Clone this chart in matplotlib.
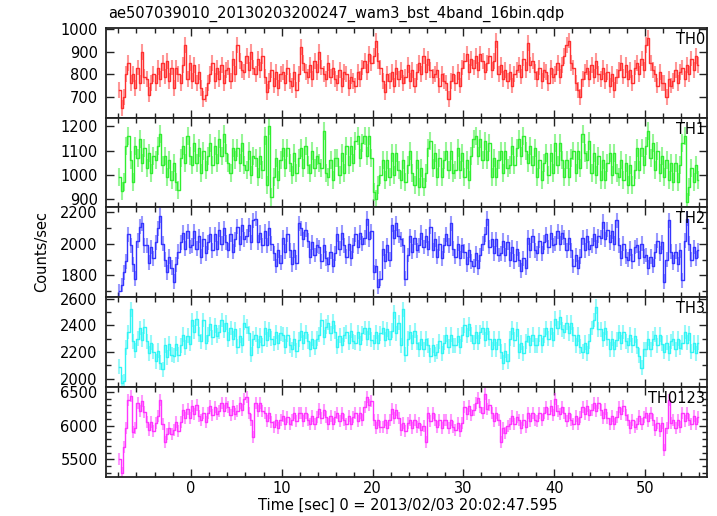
import numpy as np
import matplotlib
matplotlib.use("Agg")
import matplotlib.pyplot as plt
from matplotlib.ticker import MultipleLocator

plt.rcParams['font.family'] = ['DejaVu Sans']

title = "ae507039010_20130203200247_wam3_bst_4band_16bin.qdp"
xlabel = "Time [sec] 0 = 2013/02/03 20:02:47.595"
ylabel = "Counts/sec"

# time bins: start of first bin and bin width (sec)
t_start = -8.0
bin_width = 0.25

# rates, 4 bins per second, one line = 4 seconds
th0 = [
    730, 650, 700, 800, 850, 760, 800, 740, 830, 760, 900, 790, 780, 710, 760, 800,
    760, 830, 780, 850, 790, 860, 770, 830, 740, 830, 800, 760, 840, 930, 780, 850,
    770, 840, 760, 810, 740, 690, 710, 760, 800, 850, 770, 830, 780, 840, 760, 820,
    830, 770, 870, 800, 930, 860, 820, 810, 880, 820, 900, 830, 800, 870, 820, 880,
    790, 720, 770, 820, 750, 810, 740, 800, 810, 760, 830, 770, 750, 810, 730, 800,
    920, 850, 810, 790, 840, 780, 860, 810, 900, 830, 800, 780, 850, 790, 830, 780,
    760, 820, 750, 810, 800, 740, 790, 770, 750, 810, 780, 830, 860, 810, 890, 850,
    880, 950, 860, 830, 770, 720, 800, 770, 810, 750, 830, 780, 820, 760, 790, 840,
    770, 820, 750, 810, 850, 800, 880, 810, 870, 820, 790, 800, 820, 750, 800, 770,
    760, 690, 770, 800, 760, 810, 750, 830, 860, 890, 810, 870, 830, 880, 820, 890,
    860, 810, 850, 880, 820, 860, 950, 800, 840, 780, 820, 770, 810, 750, 800, 820,
    840, 790, 870, 820, 940, 840, 860, 810, 780, 830, 770, 820, 810, 760, 830, 790,
    800, 850, 790, 840, 880, 930, 950, 850, 830, 760, 730, 700, 780, 810, 830, 780,
    840, 790, 860, 800, 780, 830, 770, 810, 750, 800, 730, 790, 820, 850, 790, 840,
    780, 820, 760, 830, 850, 800, 870, 820, 930, 960, 850, 820, 800, 750, 810, 760,
    760, 700, 780, 750, 770, 820, 760, 810, 830, 780, 840, 800, 870, 820, 880, 840,
]
th1 = [
    990, 935, 970, 1120, 1160, 1060, 970, 1120, 1070, 1150, 1050, 1110, 1030, 1090, 1010, 1080,
    1060, 1120, 1170, 1040, 1080, 990, 1060, 980, 1050, 970, 940, 1070, 1120, 1050, 1160, 1080,
    1040, 1130, 1050, 1110, 1010, 1100, 1020, 1080, 1130, 1040, 1120, 1050, 1150, 1080, 1170, 1090,
    1050, 1010, 1110, 1060, 1110, 1050, 1130, 1040, 1020, 1100, 1000, 1080, 1070, 990, 1080, 1020,
    1160, 960, 1200, 910, 990, 1070, 980, 1060, 1110, 1030, 1110, 1050, 1000, 1090, 1010, 1070,
    1110, 1030, 1120, 1040, 1010, 1100, 1030, 1080, 1050, 1030, 1180, 1010, 990, 1060, 980, 1070,
    1070, 1000, 1090, 1010, 1120, 1040, 1120, 1050, 1140, 1160, 1070, 1130, 1160, 1080, 1160, 1070,
    930, 900, 960, 1000, 1060, 980, 1060, 990, 1090, 1000, 1090, 1020, 980, 1060, 970, 1040,
    1100, 1010, 960, 1060, 950, 1030, 950, 1010, 1110, 1140, 1030, 1090, 990, 1070, 990, 1060,
    1100, 1020, 1100, 1010, 1020, 1110, 1020, 1090, 990, 1060, 980, 1080, 1150, 1160, 1080, 1150,
    1060, 1140, 1060, 1130, 990, 1070, 990, 1060, 1100, 1010, 1100, 1030, 1040, 1120, 1040, 1110,
    1150, 1080, 1160, 1100, 1050, 1120, 1040, 1110, 990, 1060, 980, 1050, 1090, 1000, 1090, 1010,
    1130, 1040, 1130, 1060, 990, 1060, 990, 1070, 1100, 1010, 1100, 1030, 1170, 1090, 1060, 1140,
    1010, 1090, 1000, 1080, 980, 1060, 980, 1050, 1090, 1000, 1090, 1010, 990, 1060, 980, 1050,
    960, 1040, 960, 1020, 1110, 1020, 1110, 1040, 1120, 1180, 1070, 1130, 1020, 1100, 1010, 1080,
    990, 1060, 980, 1050, 970, 1050, 970, 1040, 1130, 1160, 890, 950, 1030, 970, 1040, 980,
]
th2 = [
    1700, 1740, 1820, 1890, 2060, 1990, 1870, 1780, 2020, 2110, 2130, 1990, 1990, 1880, 1980, 1910,
    2010, 2100, 2180, 2000, 1900, 1820, 1920, 1850, 1760, 1870, 1950, 2010, 2070, 1970, 2080, 1980,
    1990, 2080, 1970, 2050, 1920, 2030, 1940, 2010, 2060, 1960, 2060, 1970, 2090, 2000, 2100, 2010,
    1960, 2060, 1950, 2030, 2110, 2000, 2120, 2030, 2050, 2120, 2010, 2150, 2160, 2010, 2070, 1990,
    2080, 1990, 2100, 2000, 1940, 1860, 1960, 1880, 2040, 1950, 2060, 1960, 1870, 1960, 1880, 2130,
    2100, 2030, 2090, 2020, 1920, 2010, 1930, 1990, 1980, 1890, 1990, 1910, 1870, 1950, 1860, 1940,
    2060, 1970, 2070, 1990, 1920, 2000, 1910, 1990, 2060, 1980, 2070, 2000, 2040, 2160, 2030, 2080,
    1820, 1860, 1730, 1780, 1970, 1890, 1990, 1900, 2120, 2040, 2130, 2050, 2030, 1990, 1780, 1930,
    2050, 1950, 2040, 1960, 1990, 2070, 1980, 2050, 1970, 2110, 1960, 2030, 1920, 2000, 1910, 1990,
    2060, 1990, 2130, 1970, 1920, 2000, 1910, 1990, 1950, 1870, 1960, 1890, 1860, 1940, 1850, 1930,
    2000, 2060, 2160, 1980, 2030, 1940, 2030, 1930, 1940, 2020, 1930, 2010, 1900, 1980, 1890, 1970,
    1900, 1830, 1910, 1850, 2040, 1960, 2050, 1960, 1940, 2020, 1940, 2010, 2060, 1980, 2070, 1990,
    2000, 2080, 2000, 2070, 2040, 1960, 2040, 1960, 1860, 1930, 1850, 1920, 2040, 1960, 2050, 1970,
    1990, 2060, 1980, 2050, 2040, 2140, 2030, 2090, 2010, 2080, 2000, 2150, 1990, 1910, 2000, 1920,
    1900, 1970, 1890, 1980, 1990, 1910, 2000, 1920, 1930, 1850, 1920, 1860, 1950, 2020, 1940, 2010,
    1760, 1900, 2150, 1950, 1880, 1950, 1870, 1960, 1770, 2020, 2160, 2000, 1900, 1980, 1910, 1960,
]
th3 = [
    2090, 1970, 1980, 2230, 2350, 2520, 2280, 2210, 2300, 2380, 2290, 2390, 2280, 2190, 2270, 2200,
    2130, 2210, 2120, 2070, 2250, 2160, 2260, 2180, 2170, 2260, 2180, 2250, 2330, 2230, 2320, 2260,
    2440, 2350, 2450, 2330, 2280, 2440, 2270, 2330, 2410, 2310, 2400, 2320, 2350, 2440, 2360, 2420,
    2290, 2380, 2300, 2370, 2240, 2320, 2250, 2420, 2390, 2340, 2180, 2300, 2330, 2240, 2320, 2250,
    2380, 2290, 2370, 2300, 2260, 2350, 2270, 2340, 2330, 2240, 2330, 2250, 2220, 2300, 2210, 2290,
    2360, 2270, 2350, 2280, 2220, 2300, 2230, 2300, 2330, 2440, 2310, 2390, 2420, 2340, 2430, 2350,
    2240, 2320, 2250, 2330, 2350, 2270, 2360, 2280, 2270, 2350, 2260, 2340, 2380, 2300, 2380, 2290,
    2270, 2350, 2270, 2340, 2380, 2290, 2370, 2300, 2360, 2500, 2340, 2420, 2250, 2520, 2180, 2300,
    2350, 2270, 2360, 2270, 2220, 2300, 2220, 2300, 2250, 2170, 2250, 2180, 2200, 2280, 2190, 2270,
    2330, 2240, 2330, 2250, 2250, 2320, 2240, 2330, 2400, 2320, 2410, 2330, 2270, 2350, 2270, 2350,
    2380, 2290, 2380, 2300, 2220, 2300, 2220, 2300, 2200, 2120, 2210, 2130, 2300, 2380, 2290, 2370,
    2200, 2270, 2190, 2280, 2320, 2250, 2330, 2250, 2250, 2330, 2250, 2320, 2380, 2300, 2380, 2290,
    2450, 2380, 2460, 2370, 2350, 2420, 2340, 2420, 2330, 2250, 2330, 2240, 2200, 2270, 2190, 2280,
    2380, 2440, 2540, 2370, 2370, 2290, 2380, 2300, 2220, 2300, 2220, 2290, 2350, 2270, 2350, 2280,
    2250, 2330, 2250, 2320, 2240, 2170, 2080, 2220, 2220, 2300, 2220, 2300, 2330, 2250, 2330, 2260,
    2200, 2270, 2190, 2280, 2300, 2220, 2300, 2230, 2270, 2350, 2270, 2340, 2200, 2270, 2190, 2270,
]
th0123 = [
    5500, 5300, 5680, 5970, 6380, 6440, 5900, 5960, 6330, 6210, 6370, 6200, 6050, 5930, 6060, 5920,
    6040, 6140, 6380, 6020, 5760, 5870, 5960, 5880, 5930, 6060, 5920, 6050, 6230, 6110, 6250, 6120,
    6290, 6170, 6300, 6150, 6080, 6190, 6060, 6180, 6290, 6160, 6280, 6170, 6220, 6340, 6210, 6330,
    6280, 6160, 6290, 6170, 6220, 6340, 6230, 6390, 6420, 6190, 6080, 5830, 6330, 6210, 6340, 6220,
    6180, 6070, 6190, 6060, 5980, 6090, 5970, 6080, 6140, 6020, 6130, 6030, 6080, 6190, 6070, 6180,
    6190, 6070, 6180, 6080, 6030, 6140, 6020, 6130, 6240, 6120, 6230, 6130, 6030, 6140, 6020, 6130,
    6180, 6070, 6190, 6080, 6030, 6140, 6020, 6130, 6190, 6070, 6180, 6080, 6280, 6420, 6300, 6360,
    6090, 5970, 6080, 5980, 5980, 6090, 5970, 6080, 6240, 6110, 6230, 6120, 5930, 6040, 5920, 6040,
    6090, 5970, 6080, 5980, 6040, 5930, 5990, 5760, 6190, 6070, 6180, 6080, 5980, 6090, 5970, 6090,
    6090, 5970, 6080, 5980, 5930, 6040, 5920, 6040, 6280, 6170, 6290, 6160, 6230, 6340, 6410, 6270,
    6180, 6470, 6240, 6300, 6190, 6070, 6180, 6080, 5750, 5960, 5890, 5990, 6030, 6140, 6020, 6130,
    6090, 5970, 6080, 5980, 6190, 6070, 6180, 6080, 6070, 6190, 6080, 6180, 6280, 6170, 6290, 6160,
    6400, 6220, 6170, 6280, 6180, 6070, 6190, 6080, 6030, 6140, 6020, 6130, 6280, 6170, 6290, 6160,
    6230, 6340, 6220, 6330, 6230, 6120, 6240, 6120, 6030, 6140, 6020, 6130, 6280, 6170, 6290, 6160,
    6090, 5970, 6080, 5980, 6030, 6140, 6020, 6130, 6190, 6070, 6180, 6080, 5930, 6040, 5920, 6040,
    5640, 5960, 6380, 6040, 6090, 5970, 6080, 5980, 6190, 6070, 6180, 6080, 6030, 6140, 6020, 6130,
]

names = ["TH0", "TH1", "TH2", "TH3", "TH0123"]
series = [th0, th1, th2, th3, th0123]
# typical error bar half length per band
errors = [35, 37, 47, 56, 89]
colors = ["#ff3030", "#30ee30", "#3535ff", "#30f5f5", "#ff35ff"]
ylims = [(608, 1007), (867, 1237), (1663, 2232), (1937, 2612), (5243, 6574)]
ymajor = [100, 100, 200, 200, 500]
yminor = [None, None, 100, 100, 100]

xlim = (-9.35, 56.8)

fig = plt.figure(figsize=(7.17, 5.16), dpi=100)
gs = fig.add_gridspec(5, 1, left=106 / 717, right=706.7 / 717,
                      top=1 - 27.7 / 516, bottom=1 - 476.7 / 516, hspace=0)

for i, (name, y, err, col) in enumerate(zip(names, series, errors, colors)):
    ax = fig.add_subplot(gs[i])
    y = np.array(y, dtype=float)
    t = t_start + bin_width * (np.arange(len(y)) + 0.5)

    ax.errorbar(t, y, yerr=err, fmt='none', ecolor=col, elinewidth=1.5, alpha=0.5)
    ax.step(t, y, where='mid', color=col, lw=1.0)

    ax.set_xlim(*xlim)
    ax.set_ylim(*ylims[i])
    ax.xaxis.set_major_locator(MultipleLocator(10))
    ax.xaxis.set_minor_locator(MultipleLocator(2))
    ax.yaxis.set_major_locator(MultipleLocator(ymajor[i]))
    if yminor[i]:
        ax.yaxis.set_minor_locator(MultipleLocator(yminor[i]))
    else:
        ax.yaxis.set_minor_locator(plt.NullLocator())

    ax.tick_params(which='both', direction='in', top=True, right=True,
                   labelsize=10.5, width=1.0, color='#222222')
    ax.tick_params(which='major', length=6)
    ax.tick_params(which='minor', length=3.5)
    ax.tick_params(axis='y', pad=6)
    ax.tick_params(axis='x', pad=3)
    if i < 4:
        ax.tick_params(labelbottom=False)
    for sp in ax.spines.values():
        sp.set_linewidth(1.3)
        sp.set_color('#222222')

    ax.text(0.998, 0.955, name, transform=ax.transAxes, ha='right', va='top',
            fontsize=10.5)

fig.text(108 / 717, 1 - 18 / 516, title, fontsize=10.5, ha='left', va='baseline')
fig.text(42 / 717, 1 - 251 / 516, ylabel, fontsize=10.5, rotation=90,
         ha='center', va='center')
fig.text(408 / 717, 1 - 510 / 516, xlabel, fontsize=10.5, ha='center',
         va='baseline')

fig.savefig("out.png", dpi=100)
